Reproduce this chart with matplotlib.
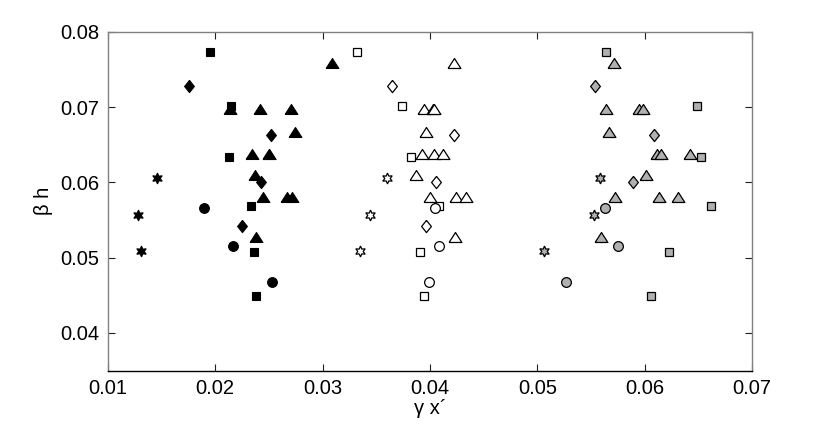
#!/usr/bin/env python3

import numpy as np
import matplotlib
matplotlib.use("Agg")
import matplotlib.pyplot as plt

plt.rcParams['font.family'] = ['Liberation Sans', 'DejaVu Sans']

# shared heights (beta h) for each marker type
sq_y = [0.0773, 0.0701, 0.0633, 0.0568, 0.0507, 0.0449]
tri_y = [0.0759, 0.0697, 0.0697, 0.0697, 0.0667, 0.0638, 0.0638, 0.0638,
         0.0610, 0.0581, 0.0581, 0.0581, 0.0527]
dia_y = [0.0728, 0.0663, 0.0601, 0.0542]
circ_y = [0.0566, 0.0515, 0.0467]
hex_y = [0.0606, 0.0557, 0.0509]

# black series (gamma x')
blk_sq = [0.01948, 0.02143, 0.02127, 0.02332, 0.0236, 0.02376]
blk_tri = [0.0309, 0.02134, 0.02419, 0.02702, 0.02742, 0.02345, 0.02497, 0.02497,
           0.02373, 0.02441, 0.02671, 0.02711, 0.02379]
blk_dia = [0.01755, 0.02516, 0.02426, 0.02249]
blk_circ = [0.01894, 0.02165, 0.02531]
blk_hex = [0.01459, 0.01283, 0.01305]

# white series
wht_sq = [0.03323, 0.03742, 0.03823, 0.04087, 0.0391, 0.03941]
wht_tri = [0.04221, 0.03947, 0.04025, 0.0404, 0.0396, 0.03929, 0.0404, 0.04118,
           0.0387, 0.0400, 0.04242, 0.04336, 0.04236]
wht_dia = [0.03646, 0.04227, 0.04053, 0.03963]
wht_circ = [0.04047, 0.04085, 0.03994]
wht_hex = [0.03597, 0.03444, 0.03348]

# gray series
gry_sq = [0.0564, 0.06491, 0.06528, 0.06618, 0.06224, 0.06062]
gry_tri = [0.05715, 0.05637, 0.0595, 0.05988, 0.05671, 0.06115, 0.06155, 0.06425,
           0.06013, 0.05727, 0.06137, 0.06311, 0.05593]
gry_dia = [0.05537, 0.0609, 0.05891]
gry_circ = [0.05628, 0.05755, 0.0527]
gry_hex = [0.05585, 0.05526, 0.05065]

tri = [(-1, -0.78), (1, -0.78), (0, 0.78), (-1, -0.78)]
dia = [(0, 1), (0.8, 0), (0, -1), (-0.8, 0), (0, 1)]

fig = plt.figure(figsize=(8.3, 4.26), dpi=100)
ax = fig.add_axes([0.130, 0.130, 0.776, 0.7956])


def draw(xs, face, lw):
    sq, tr, di, ci, hx = xs
    kw = dict(linestyle='none', markerfacecolor=face, markeredgecolor='k',
              markeredgewidth=lw)
    ax.plot(sq, sq_y, marker='s', markersize=5.8, **kw)
    ax.plot(tr, tri_y[:len(tr)], marker=tri, markersize=9.2, **kw)
    ax.plot(di, dia_y[:len(di)], marker=dia, markersize=8.8, **kw)
    ax.plot(ci, circ_y, marker='o', markersize=7.0, **kw)
    ax.plot(hx, hex_y, marker=(6, 1, 0), markersize=7.8, **kw)


draw((blk_sq, blk_tri, blk_dia, blk_circ, blk_hex), 'k', 0.8)
draw((wht_sq, wht_tri, wht_dia, wht_circ, wht_hex), 'white', 0.9)
draw((gry_sq, gry_tri, gry_dia, gry_circ, gry_hex), '#b0b0b0', 0.9)

ax.set_xlim(0.01, 0.07)
ax.set_ylim(0.035, 0.08)
ax.set_xticks(np.arange(0.01, 0.0701, 0.01))
ax.set_yticks(np.arange(0.04, 0.0801, 0.01))
ax.set_xticklabels(['0.01', '0.02', '0.03', '0.04', '0.05', '0.06', '0.07'])
ax.set_yticklabels(['0.04', '0.05', '0.06', '0.07', '0.08'])
ax.tick_params(direction='in', top=True, right=True, length=5, width=0.8,
               labelsize=14.5, pad=6, color='#202020')
for side in ['left', 'right', 'top']:
    ax.spines[side].set_color('#808080')
ax.spines['bottom'].set_color('k')
for sp in ax.spines.values():
    sp.set_linewidth(1.0)

ax.set_xlabel('γ x´', fontsize=14.5, labelpad=1)
ax.set_ylabel('β h', fontsize=14.5, labelpad=5)

fig.savefig('out.png', dpi=100)
